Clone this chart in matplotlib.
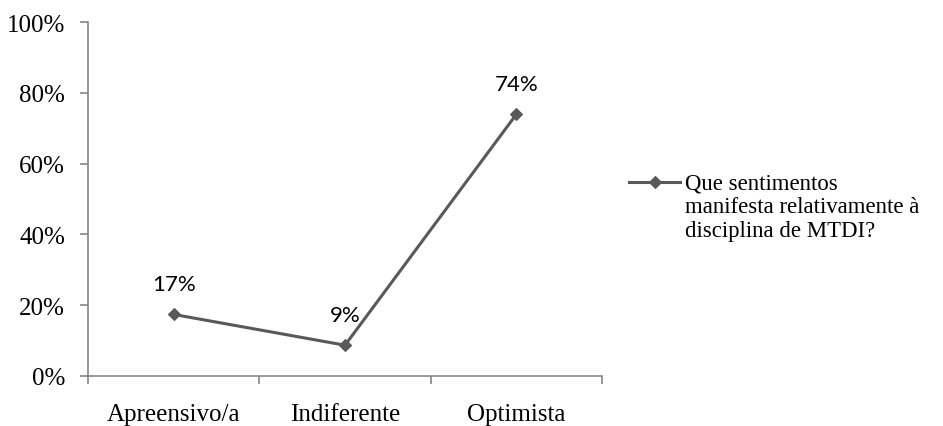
import matplotlib
matplotlib.use('Agg')
import matplotlib.pyplot as plt
from matplotlib.ticker import FuncFormatter

categories = ['Apreensivo/a', 'Indiferente', 'Optimista']
values = [17.39, 8.70, 73.91]
labels = ['17%', '9%', '74%']
series_name = 'Que sentimentos\nmanifesta relativamente à\ndisciplina de MTDI?'

fig = plt.figure(figsize=(9.43, 4.27), dpi=100)
ax = fig.add_axes([88/943, 1 - 377/427, (602 - 88)/943, (377 - 23)/427])

xs = list(range(len(categories)))
line, = ax.plot(xs, values, color='#595959', lw=2.2, marker='D', ms=6.5,
                mfc='#595959', mec='#595959', mew=0.8, clip_on=False)

for x, v, t in zip(xs, values, labels):
    ax.annotate(t, (x, v), xytext=(0, 17.5), textcoords='offset points',
                ha='center', va='baseline', fontsize=16, family='Lato',
                color='black')

ax.set_xlim(-0.5, 2.5)
ax.set_ylim(0, 100)
ax.set_yticks(range(0, 101, 20))
ax.yaxis.set_major_formatter(FuncFormatter(lambda v, p: '%d%%' % v))
ax.set_xticks([-0.5, 0.5, 1.5, 2.5])
ax.set_xticklabels([])
ax.set_xticks(xs, minor=True)
ax.set_xticklabels(categories, minor=True)
ax.tick_params(axis='x', which='minor', length=0, pad=19.5)
ax.tick_params(axis='x', which='major', length=5.5, width=1.2, color='#868686', direction='out')
ax.tick_params(axis='y', length=5.5, width=1.2, color='#868686', direction='out', pad=11)

for lab in ax.get_yticklabels() + ax.get_xticklabels(minor=True):
    lab.set_family('Liberation Serif')
    lab.set_fontsize(18)

for s in ['top', 'right']:
    ax.spines[s].set_visible(False)
for s in ['left', 'bottom']:
    ax.spines[s].set_color('#868686')
    ax.spines[s].set_linewidth(1.2)

leg = fig.legend([line], [series_name], loc='upper left',
                 bbox_to_anchor=(629/943, 1 - 174/427), frameon=False,
                 prop={'family': 'Liberation Serif', 'size': 16.4},
                 handlelength=2.24, handletextpad=0.22, borderaxespad=0,
                 borderpad=0)
for t in leg.get_texts():
    t.set_linespacing(1.15)
# put the legend marker beside the first line of the label, as Excel does
h = leg.legend_handles[0]
h.set_ydata(h.get_ydata() + 18)

fig.savefig('out.png', dpi=100)
